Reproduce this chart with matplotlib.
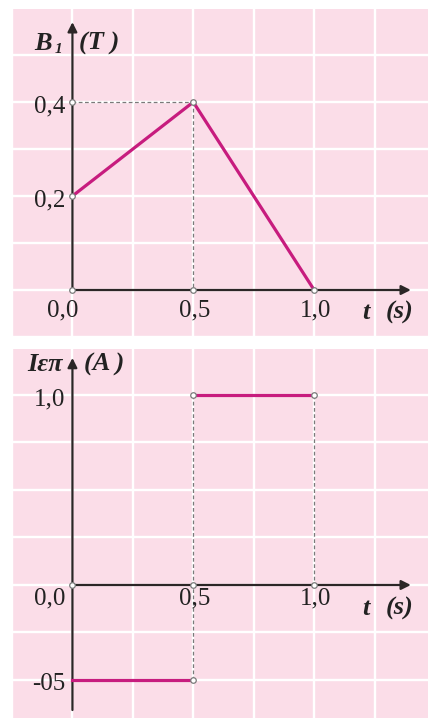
import matplotlib.pyplot as plt
import numpy as np

# magnetic field B1 (T) against time t (s)
t_field = [0.0, 0.5, 1.0]
b_field = [0.2, 0.4, 0.0]

# induced current (A): two constant pieces
t_neg = [0.0, 0.5]
i_neg = [-0.5, -0.5]
t_pos = [0.5, 1.0]
i_pos = [1.0, 1.0]

x_ticks = [0.0, 0.5, 1.0]
x_tick_labels = ['0,0', '0,5', '1,0']
b_ticks = [0.2, 0.4]
b_tick_labels = ['0,2', '0,4']
i_ticks = [1.0, -0.5]
i_tick_labels = ['1,0', '-05']

PINK = '#fbdde8'
MAGENTA = '#c71c7e'
AXIS = '#2b2626'
DASH = '#7a7a7a'
SERIF = 'Liberation Serif'

plt.rcParams['font.family'] = SERIF


def setup(ax, xlim, ylim, ystep):
    ax.set_facecolor(PINK)
    ax.set_xlim(*xlim)
    ax.set_ylim(*ylim)
    ax.set_xticks(np.arange(-0.25, 1.5, 0.25))
    ax.set_yticks(np.arange(np.ceil(ylim[0] / ystep) * ystep, ylim[1], ystep))
    ax.grid(color='white', lw=1.7)
    ax.tick_params(length=0, labelbottom=False, labelleft=False)
    for s in ax.spines.values():
        s.set_visible(False)


def arrow(ax, start, end):
    ax.annotate('', xy=end, xytext=start,
                arrowprops=dict(arrowstyle='-|>', color=AXIS, lw=1.6,
                                mutation_scale=14, shrinkA=0, shrinkB=0))


def marker(ax, xs, ys):
    ax.plot(xs, ys, 'o', ms=4, mfc='white', mec=DASH, mew=0.9, zorder=6)


def dashed(ax, xs, ys):
    ax.plot(xs, ys, color=DASH, lw=0.9, dashes=(3, 2), zorder=3)


fig = plt.figure(figsize=(4.28, 7.18), dpi=100)
ax_b = fig.add_axes([12 / 428, 1 - 337 / 718, 416 / 428, 328 / 718])
ax_i = fig.add_axes([12 / 428, 0, 416 / 428, 369 / 718])

tick_kw = dict(fontsize=18, color='#222222')
lab_kw = dict(fontsize=19, fontweight='bold', fontstyle='italic', color='#222222')

# ---- upper panel: B1(t) ----
setup(ax_b, (-0.248, 1.471), (-0.1, 0.598), 0.1)
arrow(ax_b, (0, 0), (1.40, 0))
arrow(ax_b, (0, 0), (0, 0.57))
dashed(ax_b, [0, 0.5], [0.4, 0.4])
dashed(ax_b, [0.5, 0.5], [0.4, 0])
ax_b.plot(t_field, b_field, color=MAGENTA, lw=2.3, zorder=5)
marker(ax_b, [0, 0, 0, 0.5, 0.5, 1.0], [0.4, 0.2, 0, 0.4, 0, 0])

for v, s in zip(b_ticks, b_tick_labels):
    ax_b.annotate(s, (0, v), xytext=(-5, -3), textcoords='offset points',
                  ha='right', va='center', **tick_kw)
for v, s in zip(x_ticks, x_tick_labels):
    ax_b.annotate(s, (v, 0), xytext=(-7 if v == 0 else 1, -15),
                  textcoords='offset points', ha='center', va='center', **tick_kw)
ax_b.annotate('B', (0, 0.5), xytext=(-21, 8), textcoords='offset points',
              ha='center', va='center', **lab_kw)
ax_b.annotate('1', (0, 0.5), xytext=(-10, 4), textcoords='offset points',
              ha='center', va='center', fontsize=11, fontweight='bold',
              fontstyle='italic', color='#222222')
ax_b.annotate('(T )', (0, 0.5), xytext=(5, 8), textcoords='offset points',
              ha='left', va='center', **lab_kw)
ax_b.annotate('t', (1.25, 0), xytext=(-6, -16), textcoords='offset points',
              ha='center', va='center', **lab_kw)
ax_b.annotate('(s)', (1.25, 0), xytext=(8, -16), textcoords='offset points',
              ha='left', va='center', **lab_kw)

# ---- lower panel: induced current ----
setup(ax_i, (-0.248, 1.471), (-0.7, 1.242), 0.25)
arrow(ax_i, (0, 0), (1.40, 0))
arrow(ax_i, (0, -0.658), (0, 1.195))
dashed(ax_i, [0.5, 0.5], [-0.5, 1.0])
dashed(ax_i, [1.0, 1.0], [1.0, 0])
ax_i.plot(t_neg, i_neg, color=MAGENTA, lw=2.3, zorder=5)
ax_i.plot(t_pos, i_pos, color=MAGENTA, lw=2.3, zorder=5)
marker(ax_i, [0, 0.5, 1.0, 0.5, 1.0, 0.5], [0, 0, 0, 1.0, 1.0, -0.5])

for v, s in zip(i_ticks, i_tick_labels):
    ax_i.annotate(s, (0, v), xytext=(-5, -3), textcoords='offset points',
                  ha='right', va='center', **tick_kw)
ax_i.annotate(x_tick_labels[0], (0, 0), xytext=(-5, -10), textcoords='offset points',
              ha='right', va='center', **tick_kw)
for v, s in zip(x_ticks[1:], x_tick_labels[1:]):
    ax_i.annotate(s, (v, 0), xytext=(1, -10), textcoords='offset points',
                  ha='center', va='center', **tick_kw)
ax_i.annotate('Iεπ', (0, 1.195), xytext=(-7, -5), textcoords='offset points',
              ha='right', va='center', **lab_kw)
ax_i.annotate('(A )', (0, 1.195), xytext=(8, -5), textcoords='offset points',
              ha='left', va='center', **lab_kw)
ax_i.annotate('t', (1.25, 0), xytext=(-6, -17), textcoords='offset points',
              ha='center', va='center', **lab_kw)
ax_i.annotate('(s)', (1.25, 0), xytext=(8, -17), textcoords='offset points',
              ha='left', va='center', **lab_kw)

fig.savefig('out.png', dpi=100)
